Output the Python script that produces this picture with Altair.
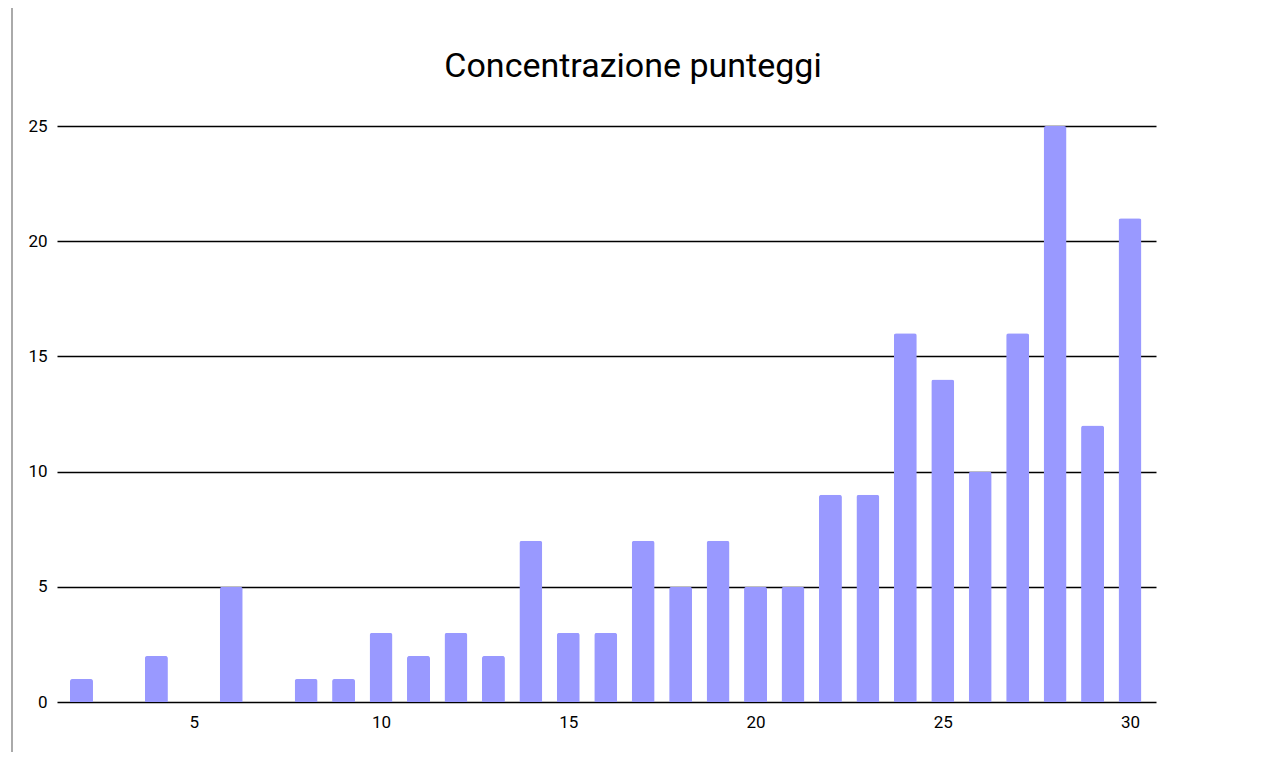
import altair as alt
import pandas as pd

punteggi = list(range(2, 31))
conteggi = [1, 0, 2, 0, 5, 0, 1, 1, 3, 2, 3, 2, 7, 3, 3, 7, 5, 7, 5, 5, 9, 9, 16, 14, 10, 16, 25, 12, 21]
x_ticks = [5, 10, 15, 20, 25, 30]
y_ticks = [0, 5, 10, 15, 20, 25]
titolo = "Concentrazione punteggi"

df = pd.DataFrame({"punteggio": punteggi, "conteggio": conteggi})

bars = alt.Chart(df).mark_bar(
    color="#9999ff", width=23, cornerRadiusTopLeft=2.5, cornerRadiusTopRight=2.5
).encode(
    x=alt.X("punteggio:Q",
            scale=alt.Scale(domain=[1.346, 30.694], nice=False, zero=False, padding=0),
            axis=alt.Axis(values=x_ticks, title=None, grid=False, domain=False,
                          ticks=False, labelPadding=12, labelFontSize=17,
                          labelFont="Roboto", labelColor="#000")),
    y=alt.Y("conteggio:Q",
            scale=alt.Scale(domain=[0, 25], nice=False),
            axis=alt.Axis(values=y_ticks, title=None, grid=True, gridColor="#000",
                          gridWidth=1.3, domain=False, ticks=False, labelPadding=10,
                          labelFontSize=17, labelFont="Roboto", labelColor="#000")),
)

border = alt.Chart(df).mark_rule(color="#aaaaaa", strokeWidth=2).encode(
    x=alt.value(-45), y=alt.value(-130), y2=alt.value(660)
)

title = alt.Chart(pd.DataFrame({"t": [titolo]})).mark_text(
    fontSize=34, font="Roboto", color="#000", align="center", baseline="alphabetic"
).encode(
    text="t:N", x=alt.value(576), y=alt.value(-49)
)

chart = alt.layer(border, bars, title).properties(
    width=1099,
    height=576,
    autosize=alt.AutoSizeParams(type="none"),
    padding={"left": 49, "top": 118, "right": 104, "bottom": 50},
).configure_view(stroke=None)

chart.save("out.html", embed_options={"renderer": "svg", "actions": False})
